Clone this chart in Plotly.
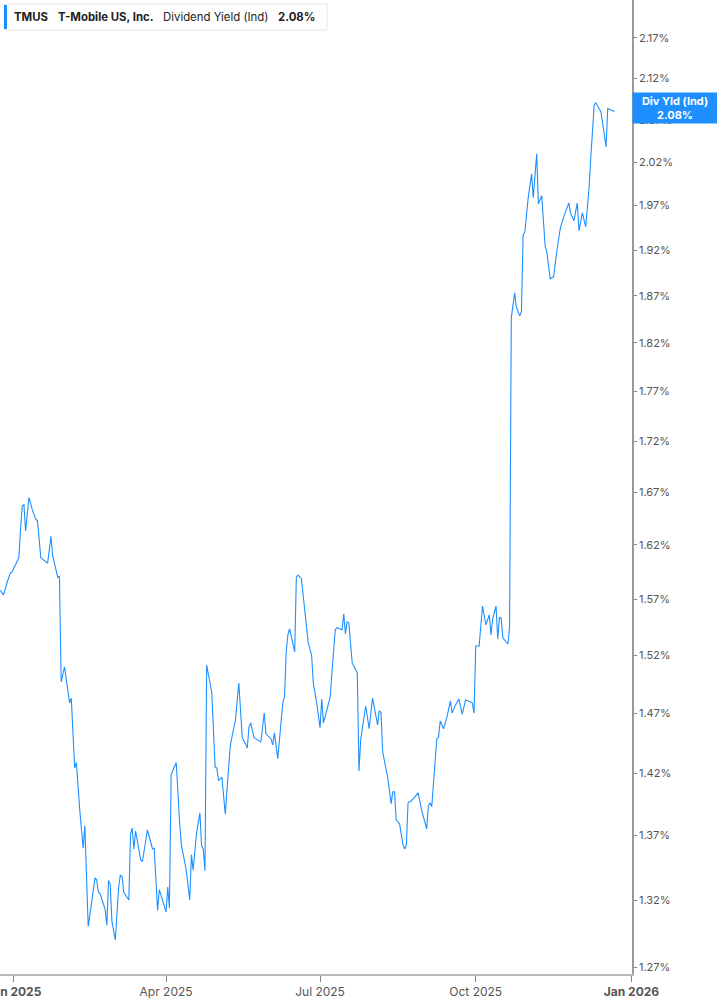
import plotly.graph_objects as go
import math

# ---- data ----
dates = [
    "2024-12-24", "2024-12-26", "2024-12-28", "2024-12-30", "2024-12-31",
    "2025-01-03", "2025-01-04", "2025-01-05", "2025-01-06", "2025-01-07",
    "2025-01-08", "2025-01-10", "2025-01-12", "2025-01-14", "2025-01-15",
    "2025-01-17", "2025-01-21", "2025-01-23", "2025-01-24", "2025-01-27",
    "2025-01-28", "2025-01-29", "2025-01-31", "2025-02-03", "2025-02-04",
    "2025-02-06", "2025-02-07", "2025-02-09", "2025-02-11", "2025-02-12",
    "2025-02-14", "2025-02-16", "2025-02-18", "2025-02-19", "2025-02-20",
    "2025-02-21", "2025-02-24", "2025-02-25", "2025-02-26", "2025-02-27",
    "2025-02-28", "2025-03-02", "2025-03-04", "2025-03-05", "2025-03-06",
    "2025-03-07", "2025-03-10", "2025-03-11", "2025-03-12", "2025-03-13",
    "2025-03-14", "2025-03-17", "2025-03-18", "2025-03-21", "2025-03-24",
    "2025-03-25", "2025-03-27", "2025-03-28", "2025-03-30", "2025-04-01",
    "2025-04-02", "2025-04-03", "2025-04-04", "2025-04-07", "2025-04-09",
    "2025-04-10", "2025-04-13", "2025-04-15", "2025-04-16", "2025-04-17",
    "2025-04-19", "2025-04-21", "2025-04-22", "2025-04-23", "2025-04-24",
    "2025-04-25", "2025-04-28", "2025-04-30", "2025-05-01", "2025-05-02",
    "2025-05-04", "2025-05-06", "2025-05-07", "2025-05-09", "2025-05-12",
    "2025-05-14", "2025-05-16", "2025-05-19", "2025-05-20", "2025-05-21",
    "2025-05-23", "2025-05-27", "2025-05-29", "2025-05-30", "2025-06-02",
    "2025-06-03", "2025-06-04", "2025-06-06", "2025-06-09", "2025-06-10",
    "2025-06-11", "2025-06-12", "2025-06-13", "2025-06-16", "2025-06-17",
    "2025-06-18", "2025-06-20", "2025-06-22", "2025-06-24", "2025-06-26",
    "2025-06-27", "2025-06-29", "2025-07-01", "2025-07-02", "2025-07-03",
    "2025-07-05", "2025-07-07", "2025-07-08", "2025-07-10", "2025-07-11",
    "2025-07-14", "2025-07-15", "2025-07-16", "2025-07-17", "2025-07-18",
    "2025-07-20", "2025-07-23", "2025-07-24", "2025-07-25", "2025-07-28",
    "2025-07-30", "2025-08-01", "2025-08-04", "2025-08-05", "2025-08-06",
    "2025-08-07", "2025-08-10", "2025-08-12", "2025-08-13", "2025-08-14",
    "2025-08-15", "2025-08-17", "2025-08-19", "2025-08-20", "2025-08-21",
    "2025-08-22", "2025-08-24", "2025-08-26", "2025-08-28", "2025-08-30",
    "2025-09-02", "2025-09-03", "2025-09-04", "2025-09-05", "2025-09-08",
    "2025-09-09", "2025-09-10", "2025-09-12", "2025-09-14", "2025-09-16",
    "2025-09-17", "2025-09-19", "2025-09-21", "2025-09-23", "2025-09-24",
    "2025-09-25", "2025-09-28", "2025-09-29", "2025-09-30", "2025-10-01",
    "2025-10-03", "2025-10-04", "2025-10-05", "2025-10-07", "2025-10-09",
    "2025-10-10", "2025-10-11", "2025-10-13", "2025-10-14", "2025-10-15",
    "2025-10-16", "2025-10-17", "2025-10-20", "2025-10-21", "2025-10-22",
    "2025-10-24", "2025-10-25", "2025-10-27", "2025-10-28", "2025-10-29",
    "2025-10-30", "2025-11-01", "2025-11-03", "2025-11-04", "2025-11-06",
    "2025-11-07", "2025-11-09", "2025-11-11", "2025-11-12", "2025-11-14",
    "2025-11-16", "2025-11-18", "2025-11-19", "2025-11-20", "2025-11-22",
    "2025-11-24", "2025-11-25", "2025-11-26", "2025-11-28", "2025-11-30",
    "2025-12-01", "2025-12-03", "2025-12-05", "2025-12-06", "2025-12-07",
    "2025-12-08", "2025-12-10", "2025-12-11", "2025-12-14", "2025-12-16",
    "2025-12-17", "2025-12-18", "2025-12-22",
]

div_yield = [
    1.578, 1.574, 1.585, 1.594, 1.595,
    1.606, 1.608, 1.634, 1.657, 1.658,
    1.633, 1.665, 1.653, 1.644, 1.643,
    1.608, 1.603, 1.628, 1.610, 1.590,
    1.591, 1.497, 1.510, 1.479, 1.483,
    1.4245, 1.429, 1.3905, 1.360, 1.378,
    1.300, 1.318, 1.337, 1.3355, 1.326,
    1.325, 1.313, 1.301, 1.335, 1.332,
    1.304, 1.290, 1.330, 1.339, 1.338,
    1.326, 1.320, 1.371, 1.376, 1.3595,
    1.3736, 1.351, 1.3495, 1.3744, 1.3595,
    1.360, 1.312, 1.328, 1.320, 1.311,
    1.330, 1.314, 1.419, 1.429, 1.381,
    1.363, 1.3425, 1.320, 1.355, 1.343,
    1.372, 1.388, 1.362, 1.3595, 1.3425,
    1.5116, 1.488, 1.425, 1.4245, 1.414,
    1.417, 1.387, 1.4066, 1.4436, 1.4644,
    1.496, 1.450, 1.441, 1.4586, 1.462,
    1.4495, 1.446, 1.4703, 1.4528, 1.4487,
    1.4436, 1.4536, 1.432, 1.479, 1.484,
    1.523, 1.538, 1.5434, 1.523, 1.5904,
    1.592, 1.5885, 1.5604, 1.531, 1.5203,
    1.496, 1.479, 1.4578, 1.4823, 1.462,
    1.4728, 1.484, 1.5047, 1.5426, 1.5444,
    1.5426, 1.5568, 1.539, 1.5497, 1.5488,
    1.5134, 1.5047, 1.422, 1.4478, 1.4763,
    1.457, 1.483, 1.4603, 1.472, 1.471,
    1.4378, 1.4163, 1.3954, 1.405, 1.405,
    1.3825, 1.3793, 1.3626, 1.3595, 1.3626,
    1.3962, 1.3978, 1.401, 1.4042, 1.3905,
    1.3752, 1.3938, 1.3962, 1.393, 1.4487,
    1.450, 1.4636, 1.457, 1.467, 1.4806,
    1.4703, 1.477, 1.4823, 1.4694, 1.477,
    1.4814, 1.4797, 1.479, 1.4703, 1.5283,
    1.5283, 1.5488, 1.5639, 1.547, 1.5559,
    1.538, 1.5523, 1.5639, 1.5345, 1.5532,
    1.5532, 1.5354, 1.530, 1.5452, 1.8466,
    1.8733, 1.8583, 1.8487, 1.853, 1.937,
    1.9404, 1.9789, 2.0064, 1.9789, 2.0297,
    1.972, 1.9812, 1.9247, 1.918, 1.8886,
    1.8908, 1.9202, 1.9314, 1.9449, 1.9573,
    1.9697, 1.9731, 1.9618, 1.9528, 1.9731,
    1.9416, 1.9618, 1.9461, 1.9685, 1.9915,
    2.0261, 2.0879, 2.0903, 2.0794, 2.0521,
    2.0379, 2.0834, 2.080,
]

y_tick_values = [1.27, 1.32, 1.37, 1.42, 1.47, 1.52, 1.57, 1.62, 1.67, 1.72,
                 1.77, 1.82, 1.87, 1.92, 1.97, 2.02, 2.07, 2.12, 2.17]
y_tick_labels = [f"{v:.2f}%" for v in y_tick_values]

x_tick_values = ["2025-01-01", "2025-04-01", "2025-07-01", "2025-10-01", "2026-01-01"]
x_tick_labels = ["<b>Jan 2025</b>", "Apr 2025", "Jul 2025", "Oct 2025", "<b>Jan 2026</b>"]

ticker = "TMUS"
company = "T-Mobile US, Inc."
metric = "Dividend Yield (Ind)"
current_value = 2.08
right_label = "Div Yld (Ind)"

# ---- layout geometry ----
W, H = 717, 1005
PLOT_R = 632
PLOT_B = 974
BLUE = "#1e8fff"
FONT = "Inter, Roboto, Arial, sans-serif"


def px(xp):
    return xp / PLOT_R


def py(yp):
    return 1 - yp / PLOT_B


fig = go.Figure()
fig.add_trace(go.Scatter(
    x=dates, y=div_yield, mode="lines",
    line=dict(color=BLUE, width=1.1),
    hoverinfo="skip", showlegend=False,
))

fig.update_layout(
    width=W, height=H,
    margin=dict(l=0, r=W - PLOT_R, t=0, b=H - PLOT_B, autoexpand=False),
    paper_bgcolor="white", plot_bgcolor="white",
    font=dict(family=FONT, size=11, color="#555555"),
    showlegend=False,
)

fig.update_xaxes(
    type="date",
    range=["2024-12-23 21:00", "2026-01-01 08:00"],
    tickvals=x_tick_values, ticktext=x_tick_labels,
    ticks="outside", ticklen=6, tickcolor="#888888", tickwidth=1,
    showline=True, linecolor="#bbbbbb", linewidth=1.5,
    showgrid=False, zeroline=False,
    automargin=False,
    ticklabeloverflow="allow",
    tickfont=dict(size=12, color="#555555"),
)

fig.update_yaxes(
    type="log", side="right",
    range=[math.log10(1.2649), math.log10(2.218)],
    tickvals=y_tick_values, ticktext=y_tick_labels,
    ticks="outside", ticklen=3, tickcolor="#888888", tickwidth=1,
    showline=True, linecolor="#999999", linewidth=1.5,
    showgrid=False, zeroline=False,
    automargin=False,
    tickfont=dict(size=11, color="#555555"),
)

# legend box (top-left)
fig.add_shape(type="rect", xref="paper", yref="paper",
              x0=px(4), x1=px(327), y0=py(30), y1=py(4),
              line=dict(color="#e6e6e6", width=1), fillcolor="white", layer="above")
fig.add_shape(type="rect", xref="paper", yref="paper",
              x0=px(4), x1=px(7), y0=py(29), y1=py(5),
              line=dict(width=0), fillcolor=BLUE, layer="above")

legend_parts = [
    (f"<b>{ticker}</b>", 12),
    (f"<b>{company}</b>", 56),
    (metric, 161),
    (f"<b>{current_value:.2f}%</b>", 276),
]
for txt, xp in legend_parts:
    fig.add_annotation(xref="paper", yref="paper", x=px(xp), y=py(17),
                       text=txt, showarrow=False, xanchor="left", yanchor="middle",
                       font=dict(family=FONT, size=11.4, color="#222222"))

# right value label
fig.add_annotation(xref="paper", yref="paper", x=px(675), y=py(108),
                   text=f"<b>{right_label}</b><br><b>{current_value:.2f}%</b>",
                   showarrow=False, xanchor="center", yanchor="middle",
                   font=dict(family=FONT, size=11, color="white"),
                   bgcolor=BLUE, borderpad=2, width=80, height=26,
                   align="center")

fig.write_html("out.html",
               config={"displayModeBar": False},
               post_script="document.body.style.margin='0';document.body.style.padding='0';")
